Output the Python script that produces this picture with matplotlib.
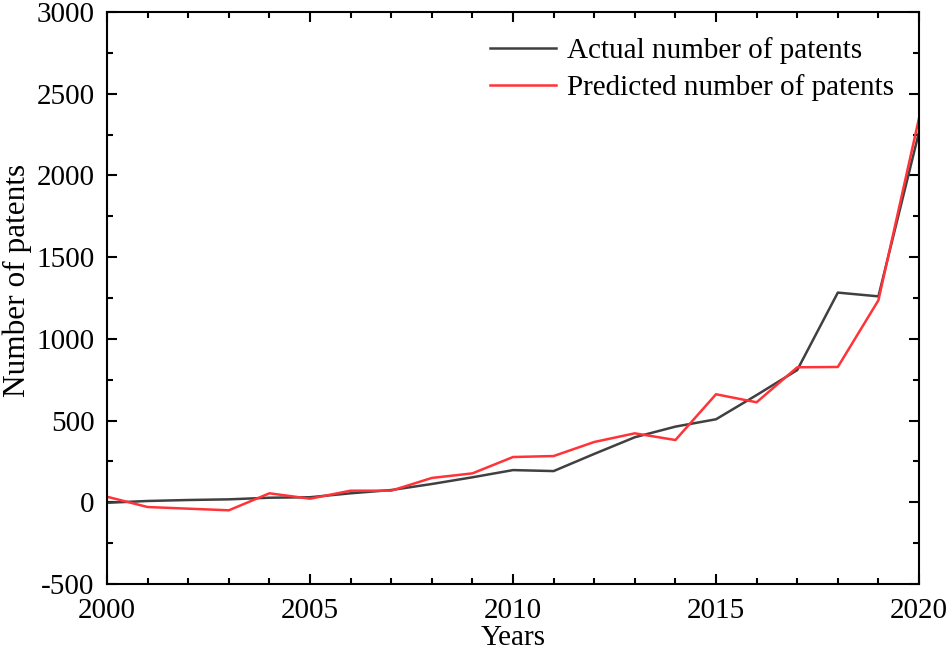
import matplotlib
matplotlib.use('Agg')
import matplotlib.pyplot as plt
from matplotlib.ticker import MultipleLocator

plt.rcParams['font.family'] = ['Liberation Serif', 'DejaVu Serif']
plt.rcParams['axes.unicode_minus'] = False

# data
years = list(range(2000, 2021))
actual = [-3, 8, 14, 18, 28, 31, 55, 75, 112, 153, 197, 191,
          296, 398, 463, 508, 656, 809, 1283, 1260, 2265]
predicted = [34, -29, -39, -49, 55, 22, 71, 71, 149, 177, 277, 283,
             369, 422, 381, 661, 612, 826, 828, 1236, 2350]

fig = plt.figure(figsize=(9.49, 6.51), dpi=100)
ax = fig.add_axes([0.1128, 0.1029, 0.8556, 0.8787])

ax.plot(years, actual, color='#404040', lw=1.8, label='Actual number of patents')
ax.plot(years, predicted, color='#ff3338', lw=1.8, label='Predicted number of patents')

ax.set_xlim(2000, 2020)
ax.set_ylim(-500, 3000)
ax.xaxis.set_major_locator(MultipleLocator(5))
ax.xaxis.set_minor_locator(MultipleLocator(1))
ax.yaxis.set_major_locator(MultipleLocator(500))
ax.yaxis.set_minor_locator(MultipleLocator(250))

ax.tick_params(which='both', direction='in', top=True, right=True,
               width=1.5, labelsize=21)
ax.tick_params(which='major', length=7.5)
ax.tick_params(which='minor', length=4.5)
ax.tick_params(axis='x', pad=10)
ax.tick_params(axis='y', pad=9)
for s in ax.spines.values():
    s.set_linewidth(1.5)

ax.set_xlabel('Years', fontsize=21, labelpad=1)
ax.set_ylabel('Number of patents', fontsize=22.5)
ax.yaxis.set_label_coords(-0.093, 0.53)

ax.legend(loc='upper right', frameon=False, fontsize=21,
          handlelength=2.25, handletextpad=0.4, labelspacing=0.36,
          borderaxespad=0.45)

fig.savefig('out.png', dpi=100)
